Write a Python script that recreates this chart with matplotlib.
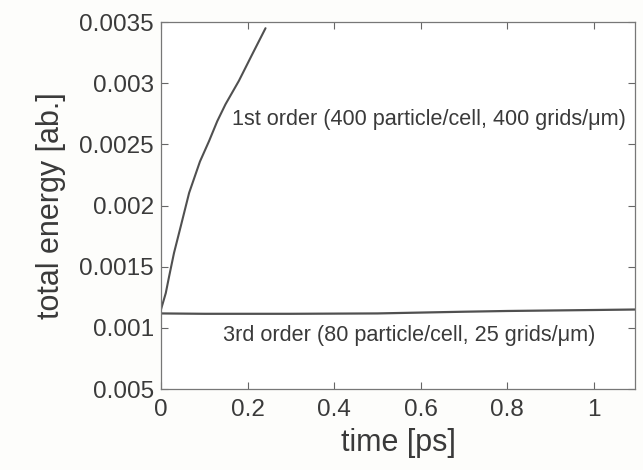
import numpy as np
import matplotlib
matplotlib.use("Agg")
import matplotlib.pyplot as plt

# 1st order run
t_first = [0.0, 0.002, 0.011, 0.0187, 0.030, 0.0456, 0.065, 0.090, 0.111,
           0.130, 0.149, 0.180, 0.211, 0.2415]
e_first = [0.00115, 0.001175, 0.001284, 0.00142, 0.001612, 0.00183, 0.002104,
           0.00236, 0.002527, 0.00269, 0.002828, 0.00302, 0.003238, 0.00345]

# 3rd order run
t_third = [0.0, 0.1, 0.3, 0.5, 0.6, 0.7, 0.8, 0.9, 1.0, 1.095]
e_third = [0.001118, 0.001115, 0.001115, 0.001118, 0.001125, 0.001132,
           0.001138, 0.001142, 0.001146, 0.001150]

xticks = [0, 0.2, 0.4, 0.6, 0.8, 1.0]
xtick_labels = ["0", "0.2", "0.4", "0.6", "0.8", "1"]
yticks = [0.0005, 0.001, 0.0015, 0.002, 0.0025, 0.003, 0.0035]
ytick_labels = ["0.005", "0.001", "0.0015", "0.002", "0.0025", "0.003", "0.0035"]

plt.rcParams["font.family"] = ["Liberation Sans", "DejaVu Sans"]
ink = "#3a3a3a"
line_col = "#505050"

fig = plt.figure(figsize=(6.43, 4.70), dpi=100, facecolor="#fdfdfb")
ax = fig.add_axes([0.2504, 0.1723, 0.737, 0.7807])
ax.set_facecolor("white")

ax.plot(t_first, e_first, color=line_col, lw=1.5, solid_capstyle="round")
ax.plot(t_third, e_third, color=line_col, lw=1.6)

ax.set_xlim(0, 1.095)
ax.set_ylim(0.0005, 0.0035)
ax.set_xticks(xticks)
ax.set_xticklabels(xtick_labels)
ax.set_yticks(yticks)
ax.set_yticklabels(ytick_labels)

ax.tick_params(direction="in", length=5, width=0.8, color="#666666",
               labelsize=17.5, labelcolor=ink, top=True, right=True, pad=5)
ax.tick_params(axis="x", pad=7)
for sp in ax.spines.values():
    sp.set_color("#777777")
    sp.set_linewidth(0.9)

ax.set_xlabel("time [ps]", fontsize=22, color=ink, labelpad=5)
ax.set_ylabel("total energy [ab.]", fontsize=22, color=ink, labelpad=10)

ax.text(0.165, 0.0027, "1st order (400 particle/cell, 400 grids/\u03bcm)",
        fontsize=15.6, color=ink, va="center")
ax.text(0.143, 0.00094, "3rd order (80 particle/cell, 25 grids/\u03bcm)",
        fontsize=15.6, color=ink, va="center")

fig.savefig("out.png", dpi=100, facecolor=fig.get_facecolor())
